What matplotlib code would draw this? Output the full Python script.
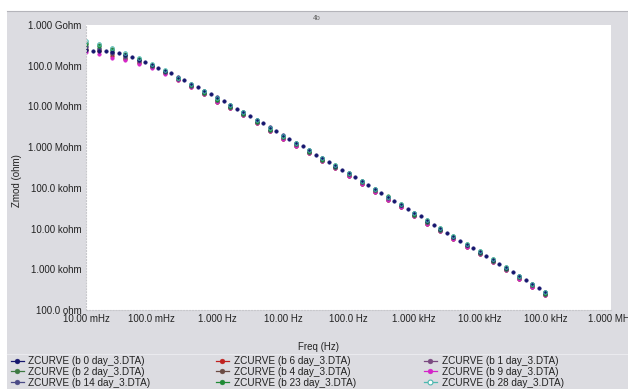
import matplotlib
matplotlib.use("Agg")
import matplotlib.pyplot as plt
from matplotlib.patches import Rectangle
from matplotlib.lines import Line2D

plt.rcParams['font.family'] = ['Liberation Sans', 'DejaVu Sans']

# frequencies (Hz): b 0 has 10 points/decade, the other files 5 points/decade
freq_10 = [0.0100, 0.0126, 0.0158, 0.0200, 0.0251, 0.0316, 0.0398, 0.0501, 0.0631, 0.0794,
           0.100, 0.126, 0.158, 0.200, 0.251, 0.316, 0.398, 0.501, 0.631, 0.794,
           1.00, 1.26, 1.58, 2.00, 2.51, 3.16, 3.98, 5.01, 6.31, 7.94,
           10.0, 12.6, 15.8, 20.0, 25.1, 31.6, 39.8, 50.1, 63.1, 79.4,
           100, 126, 158, 200, 251, 316, 398, 501, 631, 794,
           1000, 1259, 1585, 1995, 2512, 3162, 3981, 5012, 6310, 7943,
           10000, 12589, 15849, 19953, 25119, 31623, 39811, 50119, 63096, 79433,
           100000]
freq_5 = [0.0100, 0.0158, 0.0251, 0.0398, 0.0631, 0.100, 0.158, 0.251, 0.398, 0.631,
          1.00, 1.58, 2.51, 3.98, 6.31, 10.0, 15.8, 25.1, 39.8, 63.1,
          100, 158, 251, 398, 631, 1000, 1585, 2512, 3981, 6310,
          10000, 15849, 25119, 39811, 63096, 100000]

# Zmod (ohm)
zmod_b0 = [2.42e8, 2.33e8, 2.31e8, 2.29e8, 2.16e8, 2.01e8, 1.82e8, 1.63e8, 1.41e8, 1.21e8,
           1.03e8, 8.73e7, 7.45e7, 6.46e7, 5.30e7, 4.34e7, 3.56e7, 2.92e7, 2.44e7, 2.03e7,
           1.66e7, 1.34e7, 1.09e7, 8.88e6, 7.19e6, 5.83e6, 4.75e6, 3.85e6, 3.07e6, 2.49e6,
           2.01e6, 1.62e6, 1.30e6, 1.05e6, 8.34e5, 6.57e5, 5.30e5, 4.30e5, 3.46e5, 2.79e5,
           2.26e5, 1.83e5, 1.45e5, 1.15e5, 9.23e4, 7.40e4, 5.97e4, 4.81e4, 3.84e4, 3.05e4,
           2.48e4, 2.03e4, 1.57e4, 1.22e4, 9.77e3, 7.83e3, 6.28e3, 5.06e3, 4.06e3, 3.27e3,
           2.61e3, 2.08e3, 1.67e3, 1.35e3, 1.06e3, 838, 676, 545, 435, 346,
           273]

# low frequency part (first 9 points) of each 5 pt/decade file
head_b28 = [4.04e8, 3.46e8, 2.76e8, 2.08e8, 1.57e8, 1.08e8, 7.65e7, 5.04e7, 3.46e7]
head_b2 = [3.71e8, 3.21e8, 2.56e8, 1.93e8, 1.50e8, 1.05e8, 7.44e7, 4.95e7, 3.36e7]
head_b23 = [3.40e8, 3.04e8, 2.42e8, 1.88e8, 1.46e8, 1.02e8, 7.28e7, 4.90e7, 3.29e7]
head_b14 = [3.13e8, 2.79e8, 2.22e8, 1.77e8, 1.37e8, 9.89e7, 7.04e7, 4.79e7, 3.21e7]
head_b1 = [2.87e8, 2.64e8, 2.10e8, 1.68e8, 1.30e8, 9.67e7, 6.88e7, 4.73e7, 3.18e7]
head_b4 = [2.64e8, 2.49e8, 1.93e8, 1.58e8, 1.24e8, 9.45e7, 6.72e7, 4.68e7, 3.11e7]
head_b6 = [2.42e8, 2.29e8, 1.77e8, 1.46e8, 1.17e8, 9.14e7, 6.50e7, 4.57e7, 3.04e7]
head_b9 = [2.16e8, 1.93e8, 1.57e8, 1.35e8, 1.11e8, 8.88e7, 6.31e7, 4.49e7, 2.97e7]

# rest of the sweep (27 points), where the files nearly coincide
tail_upper = [2.34e7, 1.57e7, 1.07e7, 7.14e6, 4.58e6, 2.94e6, 1.90e6, 1.30e6, 8.35e5, 5.36e5,
              3.56e5, 2.33e5, 1.48e5, 9.52e4, 6.07e4, 4.02e4, 2.41e4, 1.58e4, 1.01e4, 6.66e3,
              4.23e3, 2.75e3, 1.74e3, 1.11e3, 689, 438, 277]
tail_mid = [2.15e7, 1.44e7, 9.84e6, 6.55e6, 4.20e6, 2.70e6, 1.74e6, 1.19e6, 7.66e5, 4.92e5,
            3.27e5, 2.14e5, 1.36e5, 8.73e4, 5.57e4, 3.69e4, 2.21e4, 1.45e4, 9.29e3, 6.11e3,
            3.88e3, 2.52e3, 1.60e3, 1.02e3, 632, 402, 254]
tail_b23 = [2.15e7, 1.44e7, 9.84e6, 6.55e6, 4.20e6, 2.70e6, 1.74e6, 1.19e6, 7.66e5, 4.92e5,
            3.27e5, 2.14e5, 1.36e5, 8.73e4, 6.25e4, 3.69e4, 2.21e4, 1.45e4, 9.29e3, 6.11e3,
            3.88e3, 2.52e3, 1.60e3, 1.02e3, 632, 402, 254]
tail_lower = [1.98e7, 1.32e7, 9.05e6, 6.03e6, 3.86e6, 2.48e6, 1.60e6, 1.09e6, 7.05e5, 4.53e5,
              3.01e5, 1.97e5, 1.25e5, 8.03e4, 5.12e4, 3.39e4, 2.03e4, 1.33e4, 8.55e3, 5.62e3,
              3.57e3, 2.32e3, 1.47e3, 938, 581, 370, 234]

y_ticks = [1e2, 1e3, 1e4, 1e5, 1e6, 1e7, 1e8, 1e9]
y_labels = ["100.0 ohm", "1.000 kohm", "10.00 kohm", "100.0 kohm",
            "1.000 Mohm", "10.00 Mohm", "100.0 Mohm", "1.000 Gohm"]
x_ticks = [1e-2, 1e-1, 1e0, 1e1, 1e2, 1e3, 1e4, 1e5, 1e6]
x_labels = ["10.00 mHz", "100.0 mHz", "1.000 Hz", "10.00 Hz", "100.0 Hz",
            "1.000 kHz", "10.00 kHz", "100.0 kHz", "1.000 MHz"]

# (label, freq, zmod, colour, hollow)
curves = [
    ("ZCURVE (b 6 day_3.DTA)", freq_5, head_b6 + tail_lower, "#c0201e", False),
    ("ZCURVE (b 4 day_3.DTA)", freq_5, head_b4 + tail_lower, "#6a4a42", False),
    ("ZCURVE (b 9 day_3.DTA)", freq_5, head_b9 + tail_lower, "#d424c8", False),
    ("ZCURVE (b 1 day_3.DTA)", freq_5, head_b1 + tail_mid, "#7a4a80", False),
    ("ZCURVE (b 14 day_3.DTA)", freq_5, head_b14 + tail_mid, "#4a4a86", False),
    ("ZCURVE (b 2 day_3.DTA)", freq_5, head_b2 + tail_upper, "#3e7a42", False),
    ("ZCURVE (b 23 day_3.DTA)", freq_5, head_b23 + tail_b23, "#1e8a34", False),
    ("ZCURVE (b 0 day_3.DTA)", freq_10, zmod_b0, "#16166e", False),
    ("ZCURVE (b 28 day_3.DTA)", freq_5, head_b28 + tail_upper, "#4cb8b0", True),
]
legend_cols = [
    ["ZCURVE (b 0 day_3.DTA)", "ZCURVE (b 2 day_3.DTA)", "ZCURVE (b 14 day_3.DTA)"],
    ["ZCURVE (b 6 day_3.DTA)", "ZCURVE (b 4 day_3.DTA)", "ZCURVE (b 23 day_3.DTA)"],
    ["ZCURVE (b 1 day_3.DTA)", "ZCURVE (b 9 day_3.DTA)", "ZCURVE (b 28 day_3.DTA)"],
]

W, H = 628, 389
fig = plt.figure(figsize=(W / 100, H / 100), dpi=100, facecolor="white")

# gray chart panel
fig.add_artist(Rectangle((7 / W, 0), 1, (H - 11) / H, transform=fig.transFigure,
                         facecolor="#dcdce1", edgecolor="none", zorder=-10))
fig.add_artist(Line2D([7 / W, 1], [(H - 11) / H, (H - 11) / H], transform=fig.transFigure,
                      color="#b4b4ba", lw=0.8))
fig.add_artist(Line2D([7 / W, 1], [(H - 354) / H, (H - 354) / H], transform=fig.transFigure,
                      color="#eaeaee", lw=0.8))

ax = fig.add_axes([86 / W, (H - 310) / H, 525 / W, 285 / H])
ax.set_facecolor("white")

handles = {}
for label, f, z, c, hollow in curves:
    face = "none" if hollow else c
    ax.plot(f, z, linestyle="none", marker="o", ms=2.6, mfc=face, mec=c,
            mew=0.7 if hollow else 0.3)
    handles[label] = Line2D([], [], color=c, lw=0.9, marker="o", ms=3.5,
                            mfc="white" if hollow else c, mec=c, mew=0.8 if hollow else 0.3)

ax.set_xscale("log")
ax.set_yscale("log")
ax.set_xlim(1e-2, 1e6)
ax.set_ylim(1e2, 1e9)
ax.set_xticks(x_ticks)
ax.set_xticklabels(x_labels)
ax.set_yticks(y_ticks)
ax.set_yticklabels(y_labels)
ax.minorticks_off()
ax.tick_params(length=0, labelsize=7, colors="#222222", pad=3)
for s in ["top", "right"]:
    ax.spines[s].set_visible(False)
for s in ["left", "bottom"]:
    ax.spines[s].set_color("#c8c8cc")
    ax.spines[s].set_linestyle(":")
    ax.spines[s].set_linewidth(0.8)

fig.text(17 / W, 1 - 181 / H, "Zmod (ohm)", rotation=90, ha="center", va="center",
         fontsize=7, color="#222222")
fig.text(318 / W, 1 - 347 / H, "Freq (Hz)", ha="center", va="center",
         fontsize=7, color="#222222")
fig.text(317 / W, 1 - 18 / H, "4b", ha="center", va="center", fontsize=5, color="#666666")

col_x = [11, 216, 424]
for x0, labels in zip(col_x, legend_cols):
    fig.legend([handles[l] for l in labels], labels, loc="upper left",
               bbox_to_anchor=(x0 / W, 1 - 356 / H), frameon=False, fontsize=7.2,
               handlelength=1.25, handletextpad=0.5, labelspacing=0.08,
               borderpad=0, borderaxespad=0, labelcolor="#222222")

fig.savefig("out.png", dpi=100, facecolor=fig.get_facecolor())
